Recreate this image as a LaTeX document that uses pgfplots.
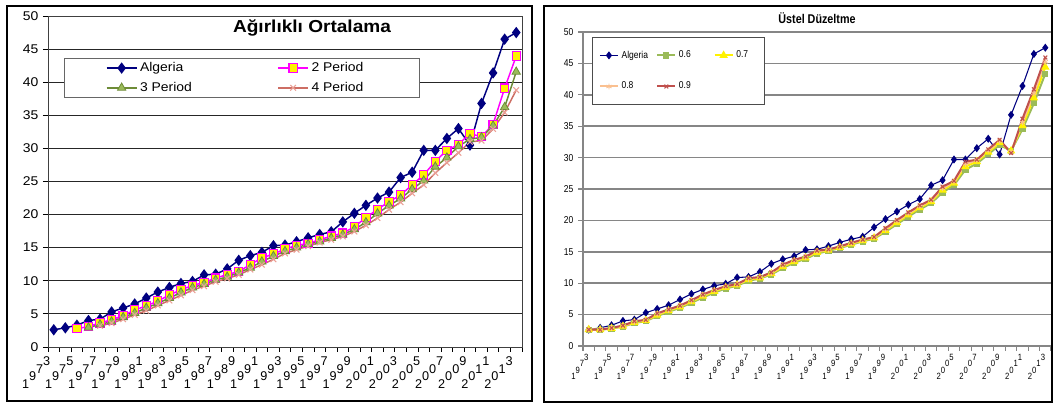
\documentclass[border=0pt]{standalone}
\usepackage{fontspec}
\setmainfont{Liberation Sans}
\newfontfamily\leftfont[FakeStretch=1.1]{Liberation Sans}
\newfontfamily\rightfont[FakeStretch=0.85]{Liberation Sans}
\newfontfamily\plainfont{Liberation Sans}
\usepackage{pgfplots}
\usepackage{pgfplotstable}
\pgfplotsset{compat=1.18}

% year labels set on a slant, one digit per step
\newcommand\diagL[4]{#1\raisebox{0.6em}{#2}\raisebox{1.2em}{#3}\raisebox{1.8em}{#4}}
\newcommand\diagR[4]{#1\raisebox{0.72em}{#2}\raisebox{1.44em}{#3}\raisebox{2.16em}{#4}}

\definecolor{navyA}{RGB}{0,0,128}
\definecolor{magP}{RGB}{255,0,255}
\definecolor{olivP}{RGB}{110,140,55}
\definecolor{greenF}{RGB}{155,187,89}
\definecolor{redP}{RGB}{192,80,77}
\definecolor{redL}{RGB}{205,110,100}
\definecolor{pinkX}{RGB}{235,160,150}
\definecolor{orangeF}{RGB}{250,192,144}
\definecolor{gridG}{RGB}{134,134,134}

% moving averages (left panel)
\pgfplotstableread{
year A P2 P3 P4
1973 2.6 nan nan nan
1974 2.9 nan nan nan
1975 3.3 2.75 nan nan
1976 4.0 3.10 2.93 nan
1977 4.2 3.65 3.40 3.20
1978 5.3 4.10 3.83 3.60
1979 5.9 4.75 4.50 4.20
1980 6.5 5.60 5.13 4.85
1981 7.4 6.20 5.90 5.48
1982 8.3 6.95 6.60 6.28
1983 9.0 7.85 7.40 7.03
1984 9.6 8.65 8.23 7.80
1985 9.9 9.30 8.97 8.58
1986 10.9 9.75 9.50 9.20
1987 11.0 10.40 10.13 9.85
1988 11.8 10.95 10.60 10.35
1989 13.1 11.40 11.23 10.90
1990 13.8 12.45 11.97 11.70
1991 14.3 13.45 12.90 12.43
1992 15.3 14.05 13.73 13.25
1993 15.4 14.80 14.47 14.13
1994 15.9 15.35 15.00 14.70
1995 16.5 15.65 15.53 15.23
1996 17.0 16.20 15.93 15.78
1997 17.4 16.75 16.47 16.20
1998 18.9 17.20 16.97 16.70
1999 20.2 18.15 17.77 17.45
2000 21.4 19.55 18.83 18.38
2001 22.5 20.80 20.17 19.48
2002 23.4 21.95 21.37 20.75
2003 25.6 22.95 22.43 21.88
2004 26.4 24.50 23.83 23.23
2005 29.7 26.00 25.13 24.48
2006 29.7 28.05 27.23 26.28
2007 31.5 29.70 28.60 27.85
2008 33.0 30.60 30.30 29.33
2009 30.5 32.25 31.40 30.98
2010 36.8 31.75 31.67 31.18
2011 41.4 33.65 33.43 32.95
2012 46.5 39.10 36.23 35.43
2013 47.5 43.95 41.57 38.80
}\maTable

% exponential smoothing (right panel)
\pgfplotstableread{
year A a6 a7 a8 a9
1973 2.6 2.60 2.60 2.60 2.60
1974 2.9 2.60 2.60 2.60 2.60
1975 3.3 2.78 2.81 2.84 2.87
1976 4.0 3.09 3.15 3.21 3.26
1977 4.2 3.64 3.75 3.84 3.93
1978 5.3 3.98 4.06 4.13 4.17
1979 5.9 4.77 4.93 5.07 5.19
1980 6.5 5.45 5.61 5.73 5.83
1981 7.4 6.08 6.23 6.35 6.43
1982 8.3 6.87 7.05 7.19 7.30
1983 9.0 7.73 7.93 8.08 8.20
1984 9.6 8.49 8.68 8.82 8.92
1985 9.9 9.16 9.32 9.44 9.53
1986 10.9 9.60 9.73 9.81 9.86
1987 11.0 10.38 10.55 10.68 10.80
1988 11.8 10.75 10.86 10.94 10.98
1989 13.1 11.38 11.52 11.63 11.72
1990 13.8 12.41 12.63 12.81 12.96
1991 14.3 13.25 13.45 13.60 13.72
1992 15.3 13.88 14.04 14.16 14.24
1993 15.4 14.73 14.92 15.07 15.19
1994 15.9 15.13 15.26 15.33 15.38
1995 16.5 15.59 15.71 15.79 15.85
1996 17.0 16.14 16.26 16.36 16.44
1997 17.4 16.66 16.78 16.87 16.94
1998 18.9 17.10 17.21 17.29 17.35
1999 20.2 18.18 18.39 18.58 18.75
2000 21.4 19.39 19.66 19.88 20.06
2001 22.5 20.60 20.88 21.10 21.27
2002 23.4 21.74 22.01 22.22 22.38
2003 25.6 22.74 22.98 23.16 23.30
2004 26.4 24.45 24.82 25.11 25.37
2005 29.7 25.62 25.93 26.14 26.30
2006 29.7 28.07 28.57 28.99 29.36
2007 31.5 29.05 29.36 29.56 29.67
2008 33.0 30.52 30.86 31.11 31.32
2009 30.5 32.01 32.36 32.62 32.83
2010 36.8 31.10 31.06 30.92 30.73
2011 41.4 34.52 35.08 35.63 36.19
2012 46.5 38.65 39.50 40.25 40.88
2013 47.5 43.36 44.40 45.25 45.94
}\esTable

\begin{document}
\begin{tikzpicture}
\useasboundingbox (0,0) rectangle (789.75pt,302.25pt);
\fill[white] (0,0) rectangle (789.75pt,302.25pt);

% ---------- left panel ----------
\begin{axis}[
  at={(36pt,42pt)}, anchor=south west,
  scale only axis, width=355.5pt, height=248.25pt,
  xmin=1972.5, xmax=2013.5, ymin=0, ymax=50,
  xtick={1973,1975,...,2013},
  xticklabels={\diagL 1973,\diagL 1975,\diagL 1977,\diagL 1979,\diagL 1981,
    \diagL 1983,\diagL 1985,\diagL 1987,\diagL 1989,\diagL 1991,\diagL 1993,
    \diagL 1995,\diagL 1997,\diagL 1999,\diagL 2001,\diagL 2003,\diagL 2005,
    \diagL 2007,\diagL 2009,\diagL 2011,\diagL 2013},
  minor xtick={1972.5,1973.5,...,2013.5},
  ytick={0,5,...,50},
  xtick pos=left, ytick pos=left,
  tick align=outside,
  major tick length=3.75pt, minor tick length=3.75pt,
  major x tick style={draw=none},
  tick style={black, line width=0.6pt},
  ymajorgrids, major grid style={black!85, line width=0.7pt},
  axis line style={black!75, line width=0.7pt},
  /pgf/number format/assume math mode=true,
  y tick label style={font=\leftfont\fontsize{9.5}{11}\selectfont},
  x tick label style={font=\plainfont\fontsize{9.5}{10}\selectfont,
    anchor=north east, inner sep=0pt, xshift=-2.5pt, yshift=-3.5pt},
  clip=false,
  legend columns=2,
  legend cell align=left,
  legend style={at={(0.034,0.873)}, anchor=north west,
    draw=black!60, line width=0.7pt,
    font=\leftfont\fontsize{9.5}{11}\selectfont,
    inner xsep=31pt, inner ysep=1pt, row sep=2.4pt},
  legend image code/.code={\draw[mark repeat=2,mark phase=2,#1]
    plot coordinates {(0pt,0pt) (11.25pt,0pt) (22.5pt,0pt)};},
]
\addplot[navyA, line width=1.1pt, mark=diamond*, mark size=3.4pt,
  mark options={fill=navyA, solid}] table[x=year, y=A] {\maTable};
\addlegendentry{\makebox[101pt][l]{Algeria}}
\addplot[magP, line width=1.1pt, mark=square*, mark size=3.1pt,
  mark options={fill=yellow, draw=magP, line width=0.8pt}] table[x=year, y=P2] {\maTable};
\addlegendentry{\makebox[48pt][l]{2 Period}}
\addplot[olivP, line width=1.1pt, mark=triangle*, mark size=3.6pt,
  mark options={fill=greenF, draw=olivP, line width=0.6pt}] table[x=year, y=P3] {\maTable};
\addlegendentry{\makebox[101pt][l]{3 Period}}
\addplot[redL, line width=1.1pt, mark=x, mark size=3pt,
  mark options={draw=pinkX, line width=0.8pt}] table[x=year, y=P4] {\maTable};
\addlegendentry{\makebox[48pt][l]{4 Period}}
\node[font=\leftfont\bfseries\fontsize{13}{15}\selectfont]
  at (rel axis cs:0.557,0.964) {Ağırlıklı Ortalama};
\end{axis}

% ---------- right panel ----------
\begin{axis}[
  at={(437.25pt,42.75pt)}, anchor=south west,
  scale only axis, width=351pt, height=235.5pt,
  xmin=1972.5, xmax=2013.5, ymin=0, ymax=50,
  xtick={1973,1975,...,2013},
  xticklabels={\diagR 1973,\diagR 1975,\diagR 1977,\diagR 1979,\diagR 1981,
    \diagR 1983,\diagR 1985,\diagR 1987,\diagR 1989,\diagR 1991,\diagR 1993,
    \diagR 1995,\diagR 1997,\diagR 1999,\diagR 2001,\diagR 2003,\diagR 2005,
    \diagR 2007,\diagR 2009,\diagR 2011,\diagR 2013},
  minor xtick={1972.5,1973.5,...,2013.5},
  ytick={0,5,...,50},
  axis lines*=left,
  tick align=outside,
  major tick length=3.75pt, minor tick length=3.75pt,
  major x tick style={draw=none},
  tick style={gridG, line width=0.8pt},
  ymajorgrids, major grid style={gridG, line width=1.1pt},
  axis line style={gridG, line width=1pt},
  /pgf/number format/assume math mode=true,
  y tick label style={font=\rightfont\fontsize{7.5}{9}\selectfont},
  x tick label style={font=\rightfont\fontsize{6.8}{8}\selectfont,
    anchor=north east, inner sep=0pt, xshift=0pt, yshift=-2pt},
  clip=false,
  legend columns=3,
  legend cell align=left,
  legend style={at={(0.019,0.984)}, anchor=north west,
    draw=black!70, line width=0.6pt,
    font=\rightfont\fontsize{7.5}{9}\selectfont,
    inner xsep=5pt, inner ysep=8pt, row sep=12.5pt},
  legend image code/.code={\draw[mark repeat=2,mark phase=2,#1]
    plot coordinates {(0pt,0pt) (6.75pt,0pt) (13.5pt,0pt)};},
]
\addplot[navyA, line width=0.8pt, mark=diamond*, mark size=2.4pt,
  mark options={fill=navyA}] table[x=year, y=A] {\esTable};
\addlegendentry{\makebox[24pt][l]{Algeria}}
\addplot[greenF, line width=1.5pt, mark=square*, mark size=1.6pt,
  mark options={fill=greenF}] table[x=year, y=a6] {\esTable};
\addlegendentry{\makebox[24pt][l]{0.6}}
\addplot[yellow, line width=1.5pt, mark=triangle*, mark size=2.2pt,
  mark options={fill=yellow}] table[x=year, y=a7] {\esTable};
\addlegendentry{\makebox[14pt][l]{0.7}}
\addplot[orangeF, line width=1.5pt, mark=asterisk, mark size=2.2pt,
  mark options={line width=0.6pt}] table[x=year, y=a8] {\esTable};
\addlegendentry{\makebox[24pt][l]{0.8}}
\addplot[redP, line width=1.5pt, mark=x, mark size=2pt,
  mark options={line width=0.8pt}] table[x=year, y=a9] {\esTable};
\addlegendentry{\makebox[24pt][l]{0.9}}
\node[font=\rightfont\bfseries\fontsize{9.5}{11}\selectfont]
  at (rel axis cs:0.5,1.045) {Üstel Düzeltme};
\end{axis}

% panel frames
\draw[black, line width=1.5pt] (5.25pt,1.5pt) rectangle (399pt,297.5pt);
\draw[black, line width=1.5pt] (408pt,1pt) rectangle (789pt,297.5pt);
\end{tikzpicture}
\end{document}
